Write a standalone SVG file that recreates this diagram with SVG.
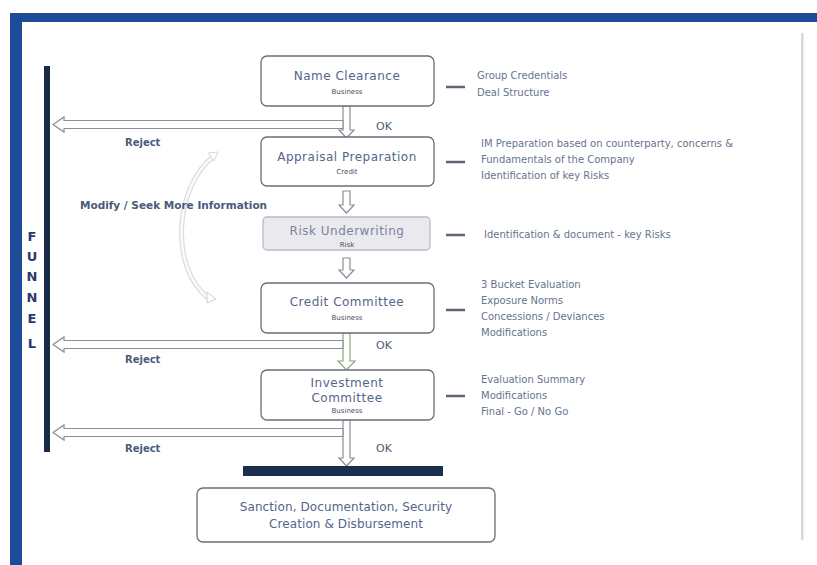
<svg xmlns="http://www.w3.org/2000/svg" width="817" height="565" viewBox="0 0 817 565">
<style>
.box{fill:#fff;stroke:#6a6e78;stroke-width:1.3}
.t{font-family:"DejaVu Sans",sans-serif;fill:#56648a;text-anchor:middle}
.title{font-size:12px;letter-spacing:0.5px}
.sub{font-size:7px;fill:#4a5060}
.note{font-family:"DejaVu Sans",sans-serif;font-size:10px;fill:#66748c}
.lbl{font-family:"DejaVu Sans",sans-serif;font-size:10px;font-weight:bold;fill:#4a5a7a}
.ok{font-family:"DejaVu Sans",sans-serif;font-size:11px;fill:#4a5a7a}
.fun{font-family:"DejaVu Sans",sans-serif;font-size:13px;font-weight:bold;fill:#2a3a6a;text-anchor:middle}
.arr{fill:#fff;stroke:#8a8e96;stroke-width:1.2}
.garr{fill:#fff;stroke:#8aa878;stroke-width:1.2}
.dash{stroke:#606570;stroke-width:2.5}
</style>
<rect width="817" height="565" fill="#fff"/>
<!-- frame -->
<rect x="10" y="13" width="807" height="9" fill="#1e4a9a"/>
<rect x="10" y="13" width="12" height="552" fill="#1e4a9a"/>
<rect x="801" y="33" width="2.5" height="507" fill="#d8d8d8"/>
<!-- funnel -->
<g id="funnel">
<rect x="44" y="66" width="6" height="386" fill="#1c2a4a"/>
<text class="fun" x="32" y="241">F</text>
<text class="fun" x="32" y="261">U</text>
<text class="fun" x="32" y="281">N</text>
<text class="fun" x="32" y="302">N</text>
<text class="fun" x="32" y="323">E</text>
<text class="fun" x="32" y="348">L</text>
</g>
<g id="connectors">
<!-- vertical hollow arrows -->
<path class="arr" d="M343,106 H350 V130 H354 L346.5,138 L339,130 H343 Z"/>
<path class="arr" d="M343,191 H350 V205 H354 L346.5,213 L339,205 H343 Z"/>
<path class="arr" d="M343,258 H350 V270 H354 L346.5,278 L339,270 H343 Z"/>
<path class="garr" d="M343,333 H350 V361 H355 L346.5,370 L338,361 H343 Z"/>
<path class="arr" d="M343,420 H350 V458 H354 L346.5,466 L339,458 H343 Z"/>
<!-- reject arrows -->
<path class="arr" d="M343,120.5 V128.5 H64 V132 L53,124.5 L64,117 V120.5 Z"/>
<path class="arr" d="M343,340.5 V348.5 H64 V352 L53,344.5 L64,337 V340.5 Z"/>
<path class="arr" d="M343,428.5 V436.5 H64 V440 L53,432.5 L64,425 V428.5 Z"/>
<!-- modify curve -->
<path d="M214,156 C176,185 168,265 208,298" fill="none" stroke="#dcdcdc" stroke-width="5"/>
<path d="M214,156 C176,185 168,265 208,298" fill="none" stroke="#fbfbfb" stroke-width="2.5"/>
<path d="M207,292 L216,299 L207,303 Z" fill="#fff" stroke="#d0d0d0" stroke-width="1"/>
<path d="M208,153 L218,152 L214,161 Z" fill="#fff" stroke="#d8d8d8" stroke-width="1"/>
<!-- side dashes -->
<line class="dash" x1="446" y1="87" x2="465" y2="87"/>
<line class="dash" x1="446" y1="162" x2="465" y2="162"/>
<line class="dash" x1="446" y1="235" x2="465" y2="235"/>
<line class="dash" x1="446" y1="310" x2="465" y2="310"/>
<line class="dash" x1="446" y1="396" x2="465" y2="396"/>
<!-- bottom bar -->
<rect x="243" y="466" width="200" height="10" fill="#1c2e4e"/>
</g>
<g id="labels">
<text class="lbl" x="125" y="146">Reject</text>
<text class="lbl" x="125" y="363">Reject</text>
<text class="lbl" x="125" y="452">Reject</text>
<text class="ok" x="376" y="130">OK</text>
<text class="ok" x="376" y="349">OK</text>
<text class="ok" x="376" y="452">OK</text>
<text class="lbl" x="80" y="209" style="font-size:10.5px">Modify / Seek More Information</text>
</g>
<g id="n-name">
<rect class="box" x="261" y="56" width="173" height="50" rx="6"/>
<text class="t title" x="347" y="80">Name Clearance</text>
<text class="t sub" x="347" y="94">Business</text>
</g>
<g id="n-appraisal">
<rect class="box" x="261" y="137" width="173" height="49" rx="6"/>
<text class="t title" x="347" y="161">Appraisal Preparation</text>
<text class="t sub" x="347" y="174">Credit</text>
</g>
<g id="n-risk">
<rect class="box" x="263" y="217" width="167" height="33" rx="4" style="fill:#e9e9ee;stroke:#b8bcc6"/>
<text class="t title" x="347" y="235" style="fill:#7a849c">Risk Underwriting</text>
<text class="t sub" x="347" y="247">Risk</text>
</g>
<g id="n-credit">
<rect class="box" x="261" y="283" width="173" height="50" rx="6"/>
<text class="t title" x="347" y="306">Credit Committee</text>
<text class="t sub" x="347" y="320">Business</text>
</g>
<g id="n-invest">
<rect class="box" x="261" y="370" width="173" height="50" rx="6"/>
<text class="t title" x="347" y="387">Investment</text>
<text class="t title" x="347" y="402">Committee</text>
<text class="t sub" x="347" y="413">Business</text>
</g>
<g id="n-final">
<rect class="box" x="197" y="488" width="298" height="54" rx="6"/>
<text class="t title" x="346" y="511" style="letter-spacing:0.1px">Sanction, Documentation, Security</text>
<text class="t title" x="346" y="528" style="letter-spacing:0.1px">Creation &amp; Disbursement</text>
</g>
<g id="notes">
<text class="note" x="477" y="79">Group Credentials</text>
<text class="note" x="477" y="96">Deal Structure</text>
<text class="note" x="481" y="147">IM Preparation based on counterparty, concerns &amp;</text>
<text class="note" x="481" y="163">Fundamentals of the Company</text>
<text class="note" x="481" y="179">Identification of key Risks</text>
<text class="note" x="484" y="238">Identification &amp; document - key Risks</text>
<text class="note" x="481" y="288">3 Bucket Evaluation</text>
<text class="note" x="481" y="304">Exposure Norms</text>
<text class="note" x="481" y="320">Concessions / Deviances</text>
<text class="note" x="481" y="336">Modifications</text>
<text class="note" x="481" y="383">Evaluation Summary</text>
<text class="note" x="481" y="399">Modifications</text>
<text class="note" x="481" y="415">Final - Go / No Go</text>
</g>
</svg>
